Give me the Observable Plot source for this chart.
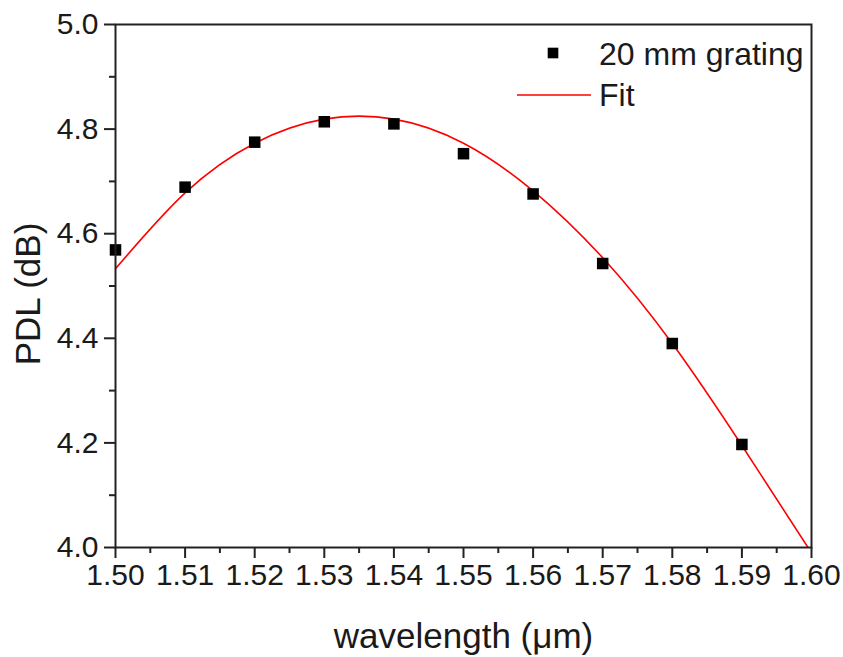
<!DOCTYPE html>
<html>
<head>
<meta charset="utf-8">
<script src="https://cdn.jsdelivr.net/npm/d3@7"></script>
<script src="https://cdn.jsdelivr.net/npm/@observablehq/plot@0.6"></script>
<style>
  html, body { margin: 0; padding: 0; background: white; }
  #chart { position: relative; width: 843px; height: 657px; }
</style>
</head>
<body>
<div id="chart"></div>
<script>
// Measured data: 20 mm grating
const wavelength = [1.50, 1.51, 1.52, 1.53, 1.54, 1.55, 1.56, 1.57, 1.58, 1.59];
const pdl        = [4.569, 4.689, 4.775, 4.814, 4.810, 4.753, 4.676, 4.543, 4.390, 4.197];

// Fit curve
const fitX = [1.500, 1.510, 1.520, 1.530, 1.540, 1.550, 1.560, 1.570, 1.580, 1.590, 1.5995];
const fitY = [4.533, 4.678, 4.773, 4.819, 4.819, 4.773, 4.682, 4.554, 4.390, 4.195, 4.000];

// Axis ticks and labels
const xMajor = [1.50, 1.51, 1.52, 1.53, 1.54, 1.55, 1.56, 1.57, 1.58, 1.59, 1.60];
const xTickLabels = ["1.50", "1.51", "1.52", "1.53", "1.54", "1.55", "1.56", "1.57", "1.58", "1.59", "1.60"];
const xMinor = [1.505, 1.515, 1.525, 1.535, 1.545, 1.555, 1.565, 1.575, 1.585, 1.595];
const yMajor = [4.0, 4.2, 4.4, 4.6, 4.8, 5.0];
const yTickLabels = ["4.0", "4.2", "4.4", "4.6", "4.8", "5.0"];
const yMinor = [4.1, 4.3, 4.5, 4.7, 4.9];

const seriesName = "20 mm grating";
const fitName = "Fit";
const xTitle = "wavelength (\u03BCm)";
const yTitle = "PDL (dB)";

const points = wavelength.map((w, i) => ({w, p: pdl[i]}));
const fit = fitX.map((w, i) => ({w, p: fitY[i]}));

const font = "'Liberation Sans', Arial, Helvetica, sans-serif";
const ink = "#1a1a1a";

const chart = Plot.plot({
  width: 843,
  height: 657,
  marginLeft: 115,
  marginRight: 32,
  marginTop: 24,
  marginBottom: 110,
  x: {domain: [1.5, 1.6]},
  y: {domain: [4.0, 5.0]},
  style: {fontFamily: font, color: ink, background: "white", overflow: "visible"},
  marks: [
    Plot.axisX(xMinor, {tickSize: 6, tickFormat: () => "", strokeWidth: 2, stroke: "#222", label: null}),
    Plot.axisX(xMajor, {tickSize: 11, tickPadding: 5, strokeWidth: 2, stroke: "#222", fontSize: 30,
      tickFormat: d => xTickLabels[xMajor.indexOf(d)], label: null}),
    Plot.axisX({ticks: [], label: xTitle, labelAnchor: "center", labelArrow: "none", labelOffset: 100, fontSize: 35}),
    Plot.axisY(yMinor, {tickSize: 6, tickFormat: () => "", strokeWidth: 2, stroke: "#222", label: null}),
    Plot.axisY(yMajor, {tickSize: 11, tickPadding: 6, strokeWidth: 2, stroke: "#222", fontSize: 30,
      tickFormat: d => yTickLabels[yMajor.indexOf(d)], label: null}),
    Plot.text([yTitle], {frameAnchor: "left", rotate: -90, dx: -87, dy: 8, fontSize: 35,
      textAnchor: "middle", lineAnchor: "middle", fill: ink}),
    Plot.line(fit, {x: "w", y: "p", stroke: "#ff0000", strokeWidth: 1.6, curve: "natural", clip: true}),
    Plot.dot(points, {x: "w", y: "p", symbol: "square", r: 6.5, fill: "#000", stroke: "none"}),
    Plot.frame({stroke: "#222", strokeWidth: 2})
  ]
});

document.getElementById("chart").appendChild(chart);

// Legend inside the plot area (top right)
const svg = d3.select(chart);
const lg = svg.append("g").attr("font-family", font).attr("fill", ink)
  .attr("font-size", 32).attr("text-anchor", "start");
const sq = d3.symbol(d3.symbolSquare, 6 * 6 * Math.PI)();
lg.append("path").attr("d", sq).attr("transform", "translate(553,53)").attr("fill", "#000");
lg.append("text").attr("x", 599).attr("y", 65).text(seriesName);
lg.append("line").attr("x1", 517).attr("x2", 591).attr("y1", 95).attr("y2", 95)
  .attr("stroke", "#ff0000").attr("stroke-width", 1.6);
lg.append("text").attr("x", 599).attr("y", 106).text(fitName);
</script>
</body>
</html>
